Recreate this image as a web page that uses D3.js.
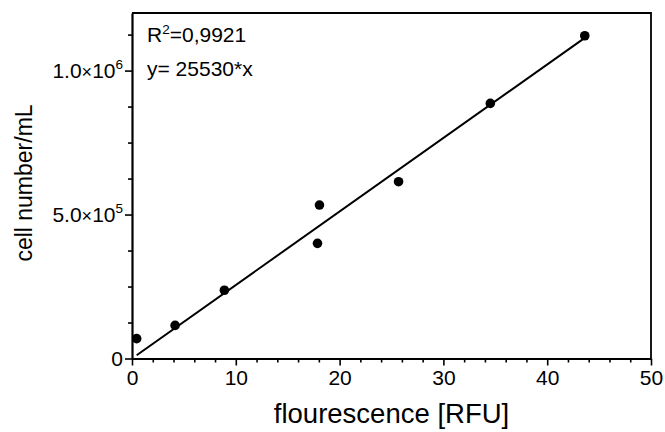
<!DOCTYPE html>
<html>
<head>
<meta charset="utf-8">
<script src="https://cdn.jsdelivr.net/npm/d3@7"></script>
<style>
  html, body { margin: 0; padding: 0; background: #fff; }
  svg { display: block; font-family: "Liberation Sans", Arial, sans-serif; }
</style>
</head>
<body>
<svg id="chart" width="665" height="432"></svg>
<script>
// Data
const fluorescence = [0.45, 4.15, 8.9, 17.87, 18.06, 25.68, 34.52, 43.62];
const cellNumber   = [69000, 115000, 237000, 400000, 533000, 614000, 886000, 1121000];
const slope = 25530;
const r2Text = "0,9921";
const xTicks = [0, 10, 20, 30, 40, 50];
const xMinorTicks = [2, 4, 6, 8, 12, 14, 16, 18, 22, 24, 26, 28, 32, 34, 36, 38, 42, 44, 46, 48];
const yTicks = [0, 500000, 1000000];
const yTickMantissa = ["0", "5.0", "1.0"];
const yTickExponent = ["", "5", "6"];
const yMinorTicks = [125000, 250000, 375000, 625000, 750000, 875000, 1125000];

const svg = d3.select("#chart");
const mLeft = 132, mRight = 651, mTop = 13, mBottom = 358.5;
const fs = 21;

const x = d3.scaleLinear().domain([0, 50]).range([mLeft, mRight]);
const y = d3.scaleLinear().domain([0, 1200000]).range([mBottom, mTop]);

// frame (top and right)
svg.append("path")
  .attr("d", `M${mLeft},${mTop}H${mRight}V${mBottom}`)
  .attr("fill", "none").attr("stroke", "#000").attr("stroke-width", 1.8);

// x axis
const gx = svg.append("g").attr("transform", `translate(0,${mBottom})`);
gx.call(d3.axisBottom(x).tickValues(xMinorTicks).tickSize(4).tickFormat(""))
  .call(g => g.select(".domain").remove());
gx.append("g").call(d3.axisBottom(x).tickValues(xTicks).tickSize(7).tickSizeOuter(0).tickPadding(5).tickFormat(d3.format("d")));
gx.selectAll("line").attr("stroke-width", 1.6);
gx.selectAll(".domain").attr("stroke-width", 2.2);
gx.selectAll("text").attr("font-size", fs).attr("fill", "#000")
  .attr("font-family", "'Liberation Sans', Arial, sans-serif");

// y axis
const gy = svg.append("g").attr("transform", `translate(${mLeft},0)`);
gy.call(d3.axisLeft(y).tickValues(yMinorTicks).tickSize(4).tickFormat(""))
  .call(g => g.select(".domain").remove());
gy.append("g").call(d3.axisLeft(y).tickValues(yTicks).tickSize(7).tickSizeOuter(0).tickFormat(""));
gy.selectAll("line").attr("stroke-width", 1.6);
gy.selectAll(".domain").attr("stroke-width", 2.2);

// y tick labels with superscripts
yTicks.forEach((v, i) => {
  const t = svg.append("text")
    .attr("x", mLeft - 9)
    .attr("y", y(v) + 7.5)
    .attr("text-anchor", "end")
    .attr("font-size", fs)
    .attr("fill", "#000");
  if (yTickExponent[i] === "") {
    t.text(yTickMantissa[i]);
  } else {
    t.append("tspan").text(yTickMantissa[i]);
    t.append("tspan").attr("font-size", 18).text("×");
    t.append("tspan").text("10");
    t.append("tspan").attr("font-size", 13.5).attr("dy", -9).text(yTickExponent[i]);
  }
});

// axis titles
svg.append("text")
  .attr("x", (mLeft + mRight) / 2).attr("y", 423)
  .attr("text-anchor", "middle").attr("font-size", 27.5).attr("fill", "#000")
  .text("flourescence [RFU]");
svg.append("text")
  .attr("transform", `translate(32,183) rotate(-90)`)
  .attr("text-anchor", "middle").attr("font-size", 23).attr("fill", "#000")
  .text("cell number/mL");

// regression line
const xExt = d3.extent(fluorescence);
svg.append("line")
  .attr("x1", x(xExt[0])).attr("y1", y(slope * xExt[0]))
  .attr("x2", x(xExt[1])).attr("y2", y(slope * xExt[1]))
  .attr("stroke", "#000").attr("stroke-width", 2);

// points
svg.append("g").selectAll("circle")
  .data(fluorescence.map((f, i) => [f, cellNumber[i]]))
  .join("circle")
  .attr("cx", d => x(d[0])).attr("cy", d => y(d[1]))
  .attr("r", 4.8).attr("fill", "#000");

// annotations
const r2 = svg.append("text").attr("x", 147).attr("y", 42)
  .attr("font-size", fs).attr("fill", "#000");
r2.append("tspan").text("R");
r2.append("tspan").attr("font-size", 13.5).attr("dy", -8).text("2");
r2.append("tspan").attr("dy", 8).text("=" + r2Text);
svg.append("text").attr("x", 147).attr("y", 76)
  .attr("font-size", fs).attr("fill", "#000")
  .text("y= " + slope + "*x");
</script>
</body>
</html>
